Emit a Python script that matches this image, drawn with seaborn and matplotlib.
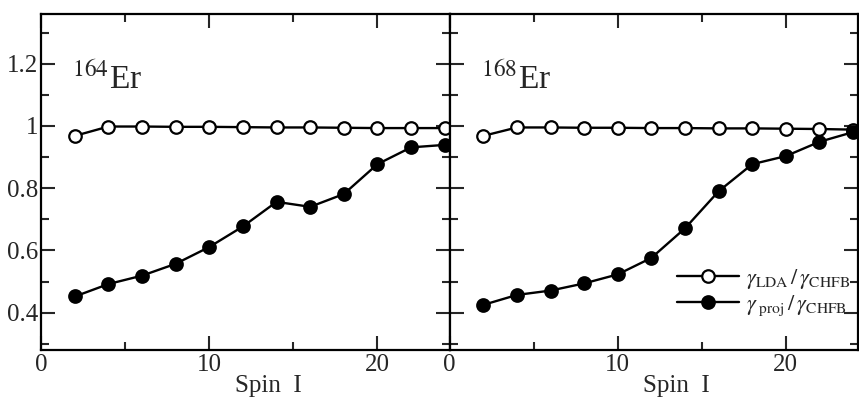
import matplotlib
matplotlib.use("Agg")
import matplotlib.pyplot as plt
import seaborn as sns
from matplotlib.ticker import MultipleLocator, FuncFormatter

# Spin values (same for both nuclei)
spin = [2, 4, 6, 8, 10, 12, 14, 16, 18, 20, 22, 24]

# 164Er ratios
er164_lda = [0.968, 0.998, 0.998, 0.997, 0.997, 0.996, 0.995, 0.995, 0.994, 0.993, 0.993, 0.993]
er164_proj = [0.452, 0.492, 0.519, 0.557, 0.611, 0.677, 0.756, 0.740, 0.781, 0.877, 0.931, 0.939]

# 168Er ratios
er168_lda = [0.968, 0.995, 0.995, 0.994, 0.994, 0.993, 0.993, 0.992, 0.992, 0.991, 0.990, 0.988]
er168_proj = [0.425, 0.457, 0.471, 0.494, 0.523, 0.576, 0.671, 0.790, 0.877, 0.903, 0.949, 0.980]

panel_labels = [r"$^{164}$Er", r"$^{168}$Er"]
legend_labels = [r"$\gamma_{\rm LDA}\,/\,\gamma_{\rm CHFB}$",
                 r"$\gamma_{\ \rm proj}\,/\,\gamma_{\rm CHFB}$"]


def style_axis(ax, show_ylabels):
    ax.set_xlim(0, 24.3)
    ax.set_ylim(0.28, 1.36)
    ax.xaxis.set_major_locator(MultipleLocator(10))
    ax.xaxis.set_minor_locator(MultipleLocator(5))
    ax.yaxis.set_major_locator(MultipleLocator(0.2))
    ax.yaxis.set_minor_locator(MultipleLocator(0.1))
    ax.yaxis.set_major_formatter(FuncFormatter(lambda v, p: f"{v:g}"))
    ax.tick_params(which="both", direction="in", top=True, right=True,
                   width=1.5, labelsize=18, labelleft=show_ylabels)
    ax.tick_params(axis="y", which="major", pad=2)
    ax.tick_params(axis="x", which="major", pad=3)
    ax.tick_params(which="major", length=10)
    ax.tick_params(which="minor", length=6)
    for s in ax.spines.values():
        s.set_linewidth(1.6)
        s.set_color("black")
    ax.set_xlabel("Spin  I", fontsize=18)
    ax.set_ylabel("")
    ax.xaxis.set_label_coords(0.555, -0.075)


def draw_panel(ax, lda, proj, with_label):
    kw = dict(color="black", marker="o", markersize=9, markeredgecolor="black",
              markeredgewidth=1.6, linewidth=1.7, ax=ax)
    sns.lineplot(x=spin, y=lda, markerfacecolor="white",
                 label=legend_labels[0] if with_label else None, **kw)
    sns.lineplot(x=spin, y=proj, markerfacecolor="black",
                 label=legend_labels[1] if with_label else None, **kw)


def main():
    sns.set_style("ticks")
    plt.rcParams["font.family"] = ["Liberation Serif", "DejaVu Serif"]
    plt.rcParams["mathtext.fontset"] = "stix"

    fig, axes = plt.subplots(1, 2, figsize=(8.59, 4.07), dpi=100, sharey=True)
    fig.subplots_adjust(left=0.048, right=0.999, bottom=0.14, top=0.966, wspace=0)

    draw_panel(axes[0], er164_lda, er164_proj, False)
    draw_panel(axes[1], er168_lda, er168_proj, True)

    for i, ax in enumerate(axes):
        style_axis(ax, i == 0)
        ax.text(1.85, 1.12, panel_labels[i], fontsize=24)

    if axes[0].get_legend() is not None:
        axes[0].get_legend().remove()
    axes[1].legend(loc="lower right", bbox_to_anchor=(0.985, 0.09), frameon=False,
                   fontsize=16, handlelength=2.8, handletextpad=0.3,
                   labelspacing=0.1, borderaxespad=0.0, borderpad=0.1)

    fig.savefig("out.png", dpi=100)


if __name__ == "__main__":
    main()
